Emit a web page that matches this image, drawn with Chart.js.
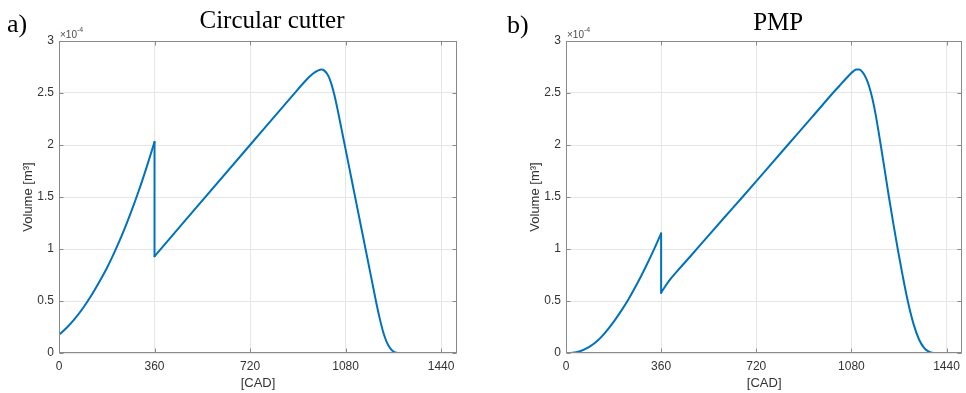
<!DOCTYPE html>
<html><head><meta charset="utf-8">
<script src="https://cdn.jsdelivr.net/npm/chart.js@4"></script>
<style>
html,body{margin:0;padding:0;background:#fff;}
#wrap{position:relative;width:966px;height:393px;overflow:hidden;background:#fff;}
canvas{position:absolute;top:0;}
</style></head><body>
<div id="wrap">
<canvas id="c1" width="483" height="393" style="left:0;width:483px;height:393px"></canvas>
<canvas id="c2" width="483" height="393" style="left:483px;width:483px;height:393px"></canvas>
</div>
<script>
// ---- data (volume in units of 1e-4 m^3, crank angle in CAD) ----
const xTicks = [0, 360, 720, 1080, 1440];
const yTicks = [0, 0.5, 1, 1.5, 2, 2.5, 3];
const yTickLabels = ['0', '0.5', '1', '1.5', '2', '2.5', '3'];
const panelLabels = ['a)', 'b)'];
const panelTitles = ['Circular cutter', 'PMP'];
const xAxisTitle = '[CAD]';
const yAxisTitle = 'Volume [m³]';
const exponentBase = '×10';
const exponentPower = '-4';

// a) Circular cutter
const cutterRiseCad = [0, 30, 60, 90, 120, 150, 180, 210, 240, 270, 300, 330, 360];
const cutterRiseVol = [0.175, 0.245, 0.33, 0.43, 0.545, 0.675, 0.815, 0.975, 1.15, 1.345, 1.555, 1.785, 2.03];
const cutterMainCad = [360, 720, 880, 930, 950, 965, 978, 988, 1000, 1015, 1025, 1037, 1050, 1065, 1080, 1100, 1120, 1140, 1160, 1178, 1194, 1208, 1222, 1236, 1250, 1262, 1272, 1282, 1440];
const cutterMainVol = [0.93, 2.00, 2.475, 2.62, 2.67, 2.70, 2.718, 2.725, 2.715, 2.665, 2.60, 2.49, 2.34, 2.15, 1.96, 1.705, 1.45, 1.195, 0.94, 0.71, 0.505, 0.34, 0.20, 0.10, 0.04, 0.012, 0.002, 0, 0];

// b) PMP
const pmpRiseCad = [0, 25, 50, 85, 110, 135, 160, 185, 210, 236, 270, 300, 330, 360];
const pmpRiseVol = [0, 0.0025, 0.015, 0.054, 0.098, 0.158, 0.232, 0.316, 0.41, 0.515, 0.67, 0.82, 0.98, 1.15];
const pmpMainCad = [360, 375, 395, 420, 450, 500, 600, 668, 750, 839, 930, 1010, 1035, 1058, 1075, 1088, 1099, 1110, 1122, 1135, 1147, 1160, 1172, 1182, 1191, 1206, 1222, 1239, 1256, 1275, 1295, 1315, 1336, 1355, 1373, 1385, 1395, 1440];
const pmpMainVol = [0.58, 0.64, 0.71, 0.785, 0.87, 1.015, 1.305, 1.50, 1.74, 2.00, 2.265, 2.50, 2.57, 2.635, 2.68, 2.71, 2.725, 2.725, 2.70, 2.645, 2.565, 2.44, 2.29, 2.14, 2.00, 1.76, 1.50, 1.24, 0.99, 0.73, 0.48, 0.28, 0.13, 0.05, 0.013, 0.002, 0, 0];

const LINE = '#0072BD';
const AXIS = '#8a8a8a';
const GRID = '#e6e6e6';
const TXT = '#333333';
const SANS = '"Liberation Sans", Arial, sans-serif';
const SERIF = '"Liberation Serif", "Times New Roman", serif';

function pts(xs, ys) { return xs.map((x, i) => ({ x: x, y: ys[i] })); }

const decor = {
  id: 'decor',
  afterDatasetsDraw(chart, args, o) {
    const ctx = chart.ctx, a = chart.chartArea;
    const xs = chart.scales.x, ys = chart.scales.y;
    const L = Math.round(a.left) + 0.5, R = Math.round(a.right) - 0.5;
    const T = Math.round(a.top) + 0.5, B = Math.round(a.bottom) - 0.5;
    ctx.save();
    ctx.strokeStyle = AXIS; ctx.lineWidth = 1;
    ctx.strokeRect(L, T, R - L, B - T);
    ctx.beginPath();
    xTicks.forEach(v => {
      const p = Math.round(xs.getPixelForValue(v)) + 0.5;
      ctx.moveTo(p, B); ctx.lineTo(p, B - 4);
      ctx.moveTo(p, T); ctx.lineTo(p, T + 4);
    });
    yTicks.forEach(v => {
      const p = Math.round(ys.getPixelForValue(v)) + 0.5;
      ctx.moveTo(L, p); ctx.lineTo(L + 4, p);
      ctx.moveTo(R, p); ctx.lineTo(R - 4, p);
    });
    ctx.stroke();

    // panel label and title
    ctx.fillStyle = '#000';
    ctx.textBaseline = 'alphabetic';
    ctx.font = '26px ' + SERIF;
    ctx.textAlign = 'left';
    ctx.fillText(o.label, o.labelX, o.labelY);
    ctx.font = '25px ' + SERIF;
    ctx.textAlign = 'center';
    ctx.fillText(o.title, (a.left + a.right) / 2 + 14, o.titleY);

    // exponent
    ctx.fillStyle = '#4d4d4d';
    ctx.textAlign = 'left';
    ctx.font = '10px ' + SANS;
    ctx.fillText(exponentBase, a.left + 1, 38);
    const w = ctx.measureText(exponentBase).width;
    ctx.font = '7px ' + SANS;
    ctx.fillText(exponentPower, a.left + 1 + w, 31.5);

    // axis titles
    ctx.fillStyle = TXT;
    ctx.font = '13px ' + SANS;
    ctx.textAlign = 'center';
    ctx.fillText(xAxisTitle, (a.left + a.right) / 2, 387);
    ctx.save();
    ctx.translate(a.left - 27.5, (a.top + a.bottom) / 2);
    ctx.rotate(-Math.PI / 2);
    ctx.fillText(yAxisTitle, 0, 0);
    ctx.restore();
    ctx.restore();
  }
};

function makeChart(id, riseCad, riseVol, mainCad, mainVol, cfg) {
  const rise = pts(riseCad, riseVol);
  const main = pts(mainCad, mainVol);
  const drop = [rise[rise.length - 1], main[0]];
  const ds = (data, mode) => ({
    data: data, borderColor: LINE, borderWidth: 2, pointRadius: 0, fill: false,
    cubicInterpolationMode: mode, tension: mode === 'monotone' ? 0.4 : 0,
    borderCapStyle: 'round', borderJoinStyle: 'round'
  });
  return new Chart(document.getElementById(id), {
    type: 'line',
    data: { datasets: [ds(rise, 'monotone'), ds(drop, 'default'), ds(main, 'monotone')] },
    options: {
      responsive: false, animation: false, parsing: false,
      layout: { padding: { left: 0, right: cfg.padRight, top: 41, bottom: 0 } },
      plugins: { legend: { display: false }, tooltip: { enabled: false }, title: { display: false },
        decor: { label: cfg.label, labelX: cfg.labelX, labelY: cfg.labelY, title: cfg.title, titleY: cfg.titleY } },
      scales: {
        x: {
          type: 'linear', min: 0, max: 1500,
          afterBuildTicks: s => { s.ticks = xTicks.map(v => ({ value: v })); },
          afterFit: s => { s.height = 40; },
          grid: { color: GRID, drawTicks: false, lineWidth: 1 },
          border: { display: false },
          ticks: { padding: 6, color: TXT, font: { family: SANS, size: 12 }, maxRotation: 0, autoSkip: false,
            callback: v => String(v) }
        },
        y: {
          type: 'linear', min: 0, max: 3,
          afterBuildTicks: s => { s.ticks = yTicks.map(v => ({ value: v })); },
          afterFit: s => { s.width = cfg.yWidth; },
          grid: { color: GRID, drawTicks: false, lineWidth: 1 },
          border: { display: false },
          ticks: { padding: 5, color: TXT, font: { family: SANS, size: 12 }, autoSkip: false,
            callback: v => yTickLabels[yTicks.indexOf(v)] }
        }
      }
    },
    plugins: [decor]
  });
}

makeChart('c1', cutterRiseCad, cutterRiseVol, cutterMainCad, cutterMainVol,
  { padRight: 26, yWidth: 59, label: panelLabels[0], labelX: 7, labelY: 32, title: panelTitles[0], titleY: 28 });
makeChart('c2', pmpRiseCad, pmpRiseVol, pmpMainCad, pmpMainVol,
  { padRight: 3, yWidth: 83, label: panelLabels[1], labelX: 24, labelY: 33, title: panelTitles[1], titleY: 30 });
</script>
</body></html>
